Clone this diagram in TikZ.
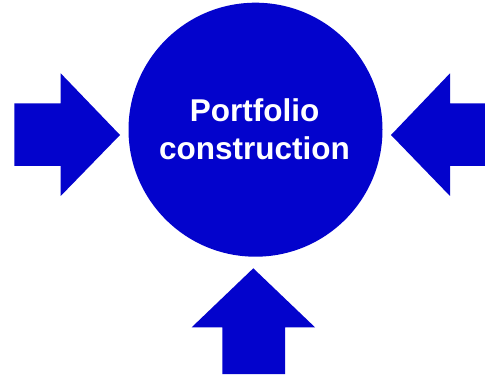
\documentclass[tikz,border=0pt]{standalone}
\usepackage{fontspec}
\setmainfont{Liberation Sans}
\definecolor{pblue}{HTML}{0303CC}
\begin{document}
\begin{tikzpicture}[x=1pt,y=-1pt,
  shape fill/.style={fill=pblue,draw=none},
  lbl/.style={text=white,font=\bfseries\fontsize{31.5}{37.6}\selectfont,align=center,inner sep=0pt}]
\useasboundingbox (0,0) rectangle (485,377);
\fill[pblue] (255.5,129.7) circle (127);
\node[lbl,anchor=base] (t1) at (254.6,121.7) {Portfolio};
\node[lbl,anchor=base] (t2) at (254.6,159.3) {construction};
% left arrow
\path[shape fill] (14.3,103.3) -- (60.7,103.3) -- (60.7,73.3) -- (120,135) -- (60.7,196) -- (60.7,166) -- (14.3,166) -- cycle;
% right arrow
\path[shape fill] (485,103.3) -- (450,103.3) -- (450,73.3) -- (391,135) -- (450,196) -- (450,166) -- (485,166) -- cycle;
% bottom arrow
\path[shape fill] (222.3,374) -- (222.3,327.3) -- (191.7,327.3) -- (253.3,268.3) -- (315,327.3) -- (285,327.3) -- (285,374) -- cycle;
\end{tikzpicture}
\end{document}
